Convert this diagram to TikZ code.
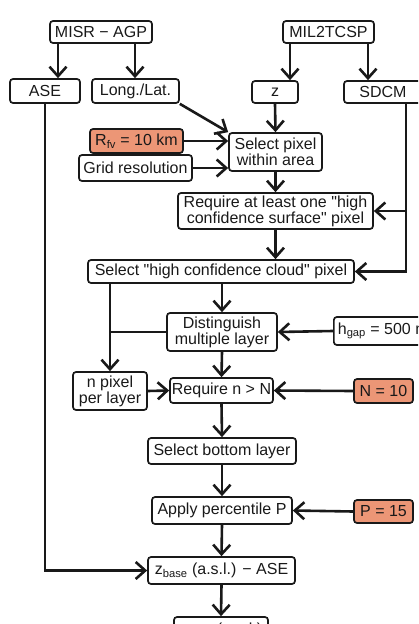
\documentclass[tikz,border=0pt]{standalone}
\usepackage{fontspec}
\setmainfont{Liberation Sans}[Ligatures=TeXOff]
\usetikzlibrary{arrows.meta}
\definecolor{salmon}{RGB}{236,150,118}
\definecolor{ink}{RGB}{25,25,25}
\tikzset{
  bx/.style={draw=ink, line width=1.7pt, rounded corners=3pt, inner sep=0pt,
    align=center, text=ink, font=\fontsize{16}{16}\selectfont},
  par/.style={bx, fill=salmon},
  arr/.style={draw=ink, line width=2.6pt, -{Straight Barb[length=9.5pt,width=17pt]}},
  ln/.style={draw=ink, line width=2.6pt}
}
\begin{document}
\begin{tikzpicture}[x=1pt,y=-1pt]
\useasboundingbox (0,0) rectangle (418,624);
\clip (0,0) rectangle (418,624);
\node[bx, minimum width=102pt, minimum height=22pt] (misr) at (101,32) {MISR − AGP};
\node[bx, minimum width=91pt, minimum height=22pt] (mil) at (328.5,32) {MIL2TCSP};
\node[bx, minimum width=70pt, minimum height=24pt] (ase) at (45,91) {ASE};
\node[bx, minimum width=87pt, minimum height=24pt] (ll) at (135.5,91) {Long./Lat.};
\node[bx, minimum width=46pt, minimum height=22pt] (z) at (275,92) {z};
\node[bx, minimum width=78pt, minimum height=22pt] (sdcm) at (383,92) {SDCM};
\node[par, minimum width=93pt, minimum height=24pt] (rfv) at (136.5,141) {R\textsubscript{fv} = 10 km};
\node[bx, minimum width=113pt, minimum height=26pt] (grid) at (135.5,168) {Grid resolution};
\node[bx, minimum width=93pt, minimum height=38pt] (selpix) at (275.5,152) {Select pixel\\within area};
\node[bx, minimum width=195pt, minimum height=36pt] (req1) at (275.5,211) {Require at least one "high\\confidence surface" pixel};
\node[bx, minimum width=266pt, minimum height=23pt] (selcloud) at (221,271.5) {Select "high confidence cloud" pixel};
\node[bx, minimum width=110pt, minimum height=38pt] (dist) at (222,332) {Distinguish\\multiple layer};
\node[bx, anchor=west, minimum height=28pt, inner xsep=4pt] (hgap) at (333,331) {h\textsubscript{gap} = 500 m\hspace{20pt}};
\node[bx, minimum width=74pt, minimum height=38pt] (npix) at (110,391) {n pixel\\per layer};
\node[bx, minimum width=103pt, minimum height=25pt] (reqn) at (221.5,390.5) {Require n > N};
\node[par, minimum width=59pt, minimum height=24pt] (n10) at (383.5,391) {N = 10};
\node[bx, minimum width=148pt, minimum height=26pt] (selbot) at (222,451) {Select bottom layer};
\node[bx, minimum width=140pt, minimum height=27pt] (apply) at (222,510.5) {Apply percentile P};
\node[par, minimum width=59pt, minimum height=23pt] (p15) at (383.5,511.5) {P = 15};
\node[bx, minimum width=147pt, minimum height=27pt] (zbase) at (221.5,570.5) {z\textsubscript{base} (a.s.l.) − ASE};
\node[bx, minimum width=94pt, minimum height=26pt] (last) at (221,630) {z\textsubscript{base} (a.g.l.)};
\coordinate (c58) at (58,0);
\coordinate (c135) at (135,0);
\coordinate (c290) at (290,0);
\coordinate (c368) at (368,0);
\coordinate (c406) at (406,0);
\draw[arr] (misr.south -| c58) -- (ase.north -| c58);
\draw[arr] (misr.south -| c135) -- (ll.north -| c135);
\draw[arr] (mil.south -| c290) -- (z.north -| c290);
\draw[arr] (mil.south -| c368) -- (sdcm.north -| c368);
\draw[arr] (ll.south east) -- (selpix.north west);
\draw[arr] (z.south) -- (selpix.north);
\draw[arr] (rfv.east) -- (rfv.east -| selpix.west);
\draw[arr] (grid.east) -- (grid.east -| selpix.west);
\draw[arr] (selpix.south) -- (req1.north);
\draw[arr] (sdcm.south -| c406) |- (selcloud.east);
\draw[arr] (req1.east -| c406) -- (req1.east);
\draw[arr] (req1.south) -- (req1.south |- selcloud.north);
\draw[arr] (selcloud.south -| dist.north) -- (dist.north);
\draw[arr] (selcloud.south -| npix.north) -- (npix.north);
\draw[ln] (dist.west) -- (dist.west -| npix.north);
\draw[arr] (hgap.west) -- (dist.east);
\draw[arr] (npix.east) -- (reqn.west);
\draw[arr] (dist.south) -- (reqn.north);
\draw[arr] (n10.west) -- (reqn.east);
\draw[arr] (reqn.south) -- (selbot.north);
\draw[arr] (selbot.south) -- (apply.north);
\draw[arr] (p15.west) -- (apply.east);
\draw[arr] (apply.south) -- (zbase.north);
\draw[arr] (ase.south) |- (zbase.west);
\draw[arr] (zbase.south) -- (last.north);
\end{tikzpicture}
\end{document}
